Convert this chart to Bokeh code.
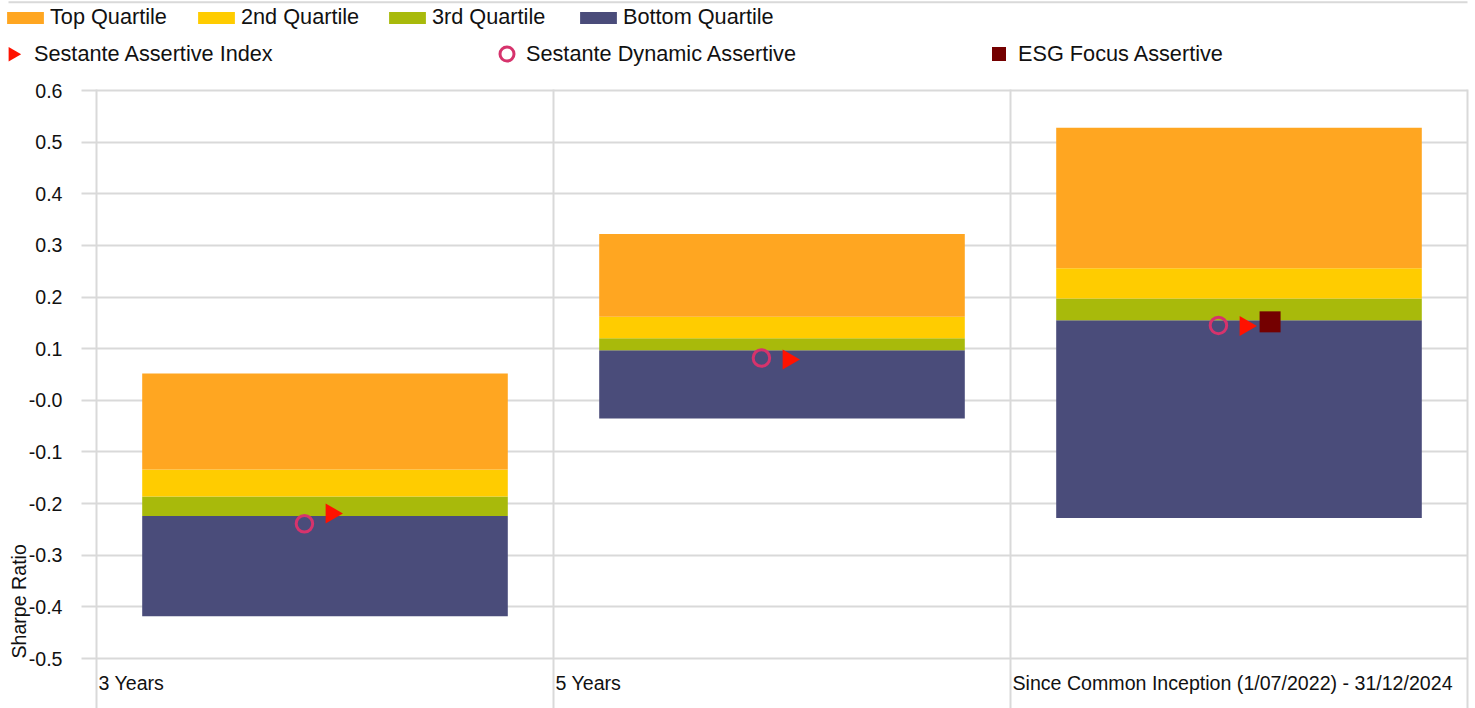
from math import pi

from bokeh.embed import file_html
from bokeh.models import (BoxAnnotation, ColumnDataSource, FixedTicker, Label,
                          Legend, LegendItem, Range1d)
from bokeh.plotting import figure
from bokeh.resources import INLINE

# ---- data -------------------------------------------------------------
categories = ["3 Years", "5 Years", "Since Common Inception (1/07/2022) - 31/12/2024"]

# peer-group Sharpe ratio distribution (quartile boundaries)
range_min = [-0.418, -0.035, -0.228]
bottom_quartile_top = [-0.224, 0.097, 0.155]
median = [-0.186, 0.120, 0.197]
top_quartile_bottom = [-0.134, 0.162, 0.256]
range_max = [0.052, 0.322, 0.528]

# fund results
assertive_index = [-0.219, 0.079, 0.144]
dynamic_assertive = [-0.239, 0.082, 0.145]
esg_focus = [float("nan"), float("nan"), 0.152]

y_ticks = [0.6, 0.5, 0.4, 0.3, 0.2, 0.1, 0.0, -0.1, -0.2, -0.3, -0.4, -0.5]
y_tick_labels = ["0.6", "0.5", "0.4", "0.3", "0.2", "0.1", "-0.0",
                 "-0.1", "-0.2", "-0.3", "-0.4", "-0.5"]

# ---- geometry & styling --------------------------------------------------
W, H = 1475, 708
FONT = "Liberation Sans"
GRID = "#d9d9d9"
TEXT = "#111111"
C_TOP, C_2ND, C_3RD, C_BOT = "#ffa621", "#ffcc00", "#a8ba0b", "#4a4c7a"
C_INDEX, C_DYN, C_ESG = "#ff1200", "#d6336c", "#740000"

Y_MAX = 0.6
PX_Y = 516.4        # pixels per unit of Sharpe ratio
PX_X = 457          # pixels per category slot
LEFT = 96           # pixel column of the value axis
TOP = 90            # pixel row of the 0.6 gridline

# the plotting frame covers the whole canvas; the axes sit inside it
x_start = -LEFT / PX_X
x_end = (W - LEFT) / PX_X
y_end = Y_MAX + TOP / PX_Y
y_start = Y_MAX - (H - TOP) / PX_Y

n = len(categories)
centers = [i + 0.5 for i in range(n)]
src = ColumnDataSource(dict(
    x=centers,
    x_dyn=[c - 0.045 for c in centers],
    x_idx=[c + 0.014 for c in centers],
    x_esg=[c + 0.068 for c in centers],
    lo=range_min, q3=bottom_quartile_top, med=median, q1=top_quartile_bottom, hi=range_max,
    idx=assertive_index, dyn=dynamic_assertive, esg=esg_focus,
))

p = figure(width=W, height=H, output_backend="svg", toolbar_location=None,
           x_range=Range1d(x_start, x_end), y_range=Range1d(y_start, y_end),
           min_border=0)
p.outline_line_color = None
p.background_fill_color = "white"
p.grid.grid_line_color = None

# value axis at x = 0; its long inward ticks form the horizontal gridlines
yax = p.yaxis[0]
yax.fixed_location = 0
yax.level = "underlay"
yax.ticker = FixedTicker(ticks=y_ticks)
yax.major_label_overrides = {t: s for t, s in zip(y_ticks, y_tick_labels)}
yax.axis_line_color = None
yax.major_tick_line_color = GRID
yax.major_tick_line_width = 2
yax.major_tick_out = 15
yax.major_tick_in = n * PX_X
yax.minor_tick_line_color = None
yax.major_label_standoff = 19
yax.major_label_text_font = FONT
yax.major_label_text_font_size = "19.6px"
yax.major_label_text_color = TEXT

# category axis at the bottom edge; its ticks are the category separators
xax = p.xaxis[0]
xax.fixed_location = y_start
xax.level = "underlay"
xax.ticker = FixedTicker(ticks=list(range(n + 1)))
xax.major_label_overrides = {i: "" for i in range(n + 1)}
xax.axis_line_color = None
xax.major_tick_line_color = GRID
xax.major_tick_line_width = 2
xax.major_tick_out = 0
xax.major_tick_in = H - TOP + 1
xax.minor_tick_line_color = None

# thin rule across the top of the chart area
p.add_layout(BoxAnnotation(left=-88 / PX_X, right=n, top=y_end - 0.8 / PX_Y,
                           bottom=y_end - 2.8 / PX_Y, fill_color=GRID, fill_alpha=1,
                           line_color=None, level="underlay"))

# stacked quartile boxes
w = 0.8
r_bot = p.vbar(x="x", width=w, bottom="lo", top="q3", source=src, fill_color=C_BOT, line_color=None)
r_3rd = p.vbar(x="x", width=w, bottom="q3", top="med", source=src, fill_color=C_3RD, line_color=None)
r_2nd = p.vbar(x="x", width=w, bottom="med", top="q1", source=src, fill_color=C_2ND, line_color=None)
r_top = p.vbar(x="x", width=w, bottom="q1", top="hi", source=src, fill_color=C_TOP, line_color=None)

# fund markers
r_dyn = p.scatter(x="x_dyn", y="dyn", source=src, marker="circle", size=16.5,
                  fill_color=None, line_color=C_DYN, line_width=3)
r_idx = p.scatter(x="x_idx", y="idx", source=src, marker="triangle", size=20,
                  angle=-pi / 2, fill_color=C_INDEX, line_color=None)
r_esg = p.scatter(x="x_esg", y="esg", source=src, marker="square", size=21,
                  fill_color=C_ESG, line_color=None)

# category labels, left aligned on the separators
for i, cat in enumerate(categories):
    p.add_layout(Label(x=i + 2 / PX_X, y=-0.548, text=cat, text_align="left",
                       text_baseline="middle", text_font=FONT,
                       text_font_size="19.6px", text_color=TEXT))

p.add_layout(Label(x=-78 / PX_X, y=-0.5, text="Sharpe Ratio", angle=pi / 2,
                   text_align="left", text_baseline="middle", text_font=FONT,
                   text_font_size="19.6px", text_color=TEXT))

# legends
common = dict(orientation="horizontal", border_line_color=None, background_fill_alpha=0,
              padding=0, margin=0, spacing=0, label_text_font=FONT,
              label_text_font_size="21.7px", label_text_color=TEXT,
              label_standoff=2)
leg1 = Legend(items=[LegendItem(label="Top Quartile", renderers=[r_top]),
                     LegendItem(label="2nd Quartile", renderers=[r_2nd]),
                     LegendItem(label="3rd Quartile", renderers=[r_3rd]),
                     LegendItem(label="Bottom Quartile", renderers=[r_bot])],
              glyph_width=46, glyph_height=15, label_width=143,
              location=(2, 678), **common)

# legend keys ignore marker rotation, so the index entry gets a transparent
# placeholder key and its right-pointing triangle is drawn beside the label
idx_key_blank = p.scatter(x=[], y=[], marker="triangle", size=0,
                          fill_alpha=0, line_alpha=0)
KEY_X = (12.3 - LEFT) / PX_X
KEY_Y = Y_MAX + (TOP - 53.7) / PX_Y
p.scatter(x=[KEY_X], y=[KEY_Y], marker="triangle", size=14.5, angle=-pi / 2,
          fill_color=C_INDEX, line_color=None)

leg2 = Legend(items=[LegendItem(label="Sestante Assertive Index", renderers=[idx_key_blank]),
                     LegendItem(label="Sestante Dynamic Assertive", renderers=[r_dyn]),
                     LegendItem(label="ESG Focus Assertive", renderers=[r_esg])],
              glyph_width=35, glyph_height=35, label_width=455,
              location=(-3, 637), **common)
p.add_layout(leg1, "center")
p.add_layout(leg2, "center")

open("out.html", "w").write(file_html(p, INLINE))
